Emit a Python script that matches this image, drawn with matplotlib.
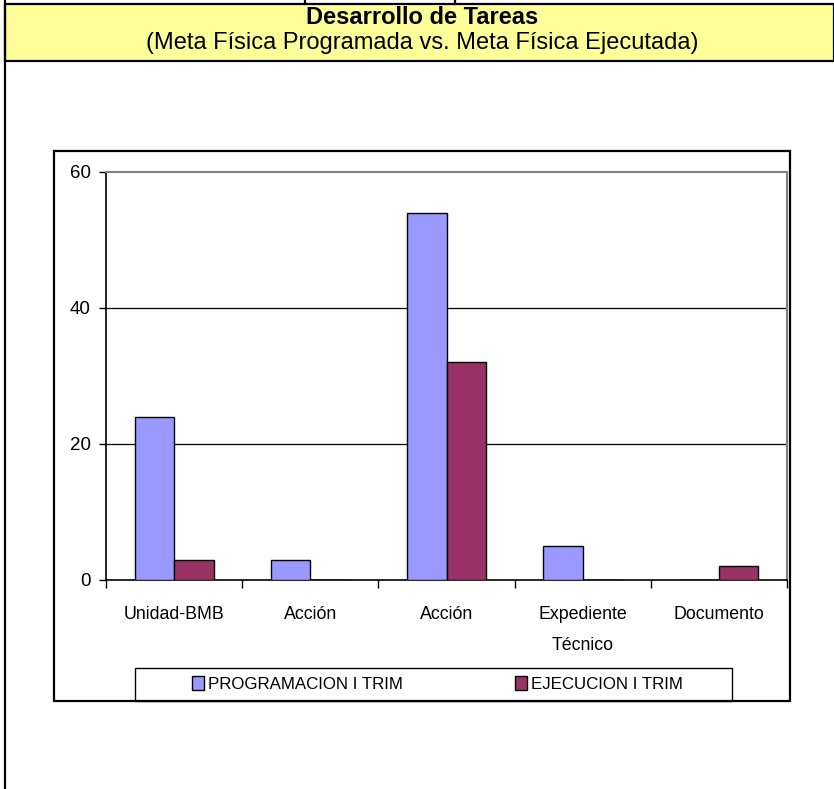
import matplotlib
matplotlib.use("Agg")
import matplotlib.pyplot as plt
from matplotlib.patches import Rectangle, Patch
from matplotlib.lines import Line2D
import numpy as np

categories = ["Unidad-BMB", "Acción", "Acción", "Expediente\nTécnico", "Documento"]
programacion = [24, 3, 54, 5, 0]
ejecucion = [3, 0, 32, 0, 2]
series_names = ["PROGRAMACION I TRIM", "EJECUCION I TRIM"]
yticks = [0, 20, 40, 60]

FONT = "Liberation Sans"
W, H = 834, 789
fig = plt.figure(figsize=(W / 100, H / 100), dpi=100)

def fx(x):
    return x / W

def fy(y):
    return 1 - y / H

# header table lines
fig.add_artist(Rectangle((fx(5), fy(61)), fx(834 - 5), (61 - 4) / H,
                         transform=fig.transFigure, facecolor="#FFFF99",
                         edgecolor="black", lw=1.6))
fig.add_artist(Line2D([fx(5), fx(5)], [fy(0), fy(789)], transform=fig.transFigure,
                      color="black", lw=1.6))
for xv in (305, 455):
    fig.add_artist(Line2D([fx(xv), fx(xv)], [fy(0), fy(4)], transform=fig.transFigure,
                          color="black", lw=1.6))
fig.text(fx(422), fy(17), "Desarrollo de Tareas", ha="center", va="center",
         fontsize=17, fontweight="bold", family=FONT)
fig.text(fx(422), fy(43), "(Meta Física Programada vs. Meta Física Ejecutada)",
         ha="center", va="center", fontsize=17, family=FONT)

# chart box
fig.add_artist(Rectangle((fx(54), fy(701)), (790 - 54) / W, (701 - 151) / H,
                         transform=fig.transFigure, facecolor="none",
                         edgecolor="black", lw=1.6, zorder=5))

ax = fig.add_axes([fx(106), fy(580), (787 - 106) / W, (580 - 172) / H])
x = np.arange(len(categories))
bw = 0.29
ax.bar(x - bw / 2, programacion, bw, color="#9999FF", edgecolor="black", lw=1.0,
       label=series_names[0], zorder=3)
ax.bar(x + bw / 2, ejecucion, bw, color="#993366", edgecolor="black", lw=1.0,
       label=series_names[1], zorder=3)
ax.set_xlim(-0.5, len(categories) - 0.5)
ax.set_ylim(0, 60)
ax.set_yticks(yticks)
ax.set_yticklabels([str(v) for v in yticks], family=FONT, fontsize=13.5)
ax.set_xticks(np.arange(len(categories) + 1) - 0.5)
ax.set_xticklabels([])
ax.set_xticks(x, minor=True)
ax.set_xticklabels(categories, minor=True, family=FONT, fontsize=12.8, linespacing=2.05)
ax.tick_params(axis="x", which="minor", length=0, pad=19)
ax.tick_params(axis="x", which="major", length=6, width=1, direction="out")
ax.tick_params(axis="y", length=5, width=1, direction="out", pad=6)
for v in (20, 40):
    ax.axhline(v, color="black", lw=0.9, zorder=1)
for s in ("top", "right"):
    ax.spines[s].set_color("#808080")
    ax.spines[s].set_linewidth(1.5)
for s in ("left", "bottom"):
    ax.spines[s].set_color("black")
    ax.spines[s].set_linewidth(1.2)

# legend box
fig.add_artist(Rectangle((fx(135), fy(701)), (732 - 135) / W, (701 - 668) / H,
                         transform=fig.transFigure, facecolor="white",
                         edgecolor="black", lw=1.0, zorder=4))
handles = [Patch(facecolor="#9999FF", edgecolor="black"),
           Patch(facecolor="#993366", edgecolor="black")]
leg = fig.legend(handles, series_names, loc="center left",
                 bbox_to_anchor=(fx(192), fy(684)), ncol=2, frameon=False,
                 handlelength=0.7, handleheight=0.85, handletextpad=0.25,
                 borderpad=0, borderaxespad=0,
                 columnspacing=6.6, prop={"family": FONT, "size": 12.2})
leg.set_zorder(6)

fig.savefig("out.png", dpi=100)
